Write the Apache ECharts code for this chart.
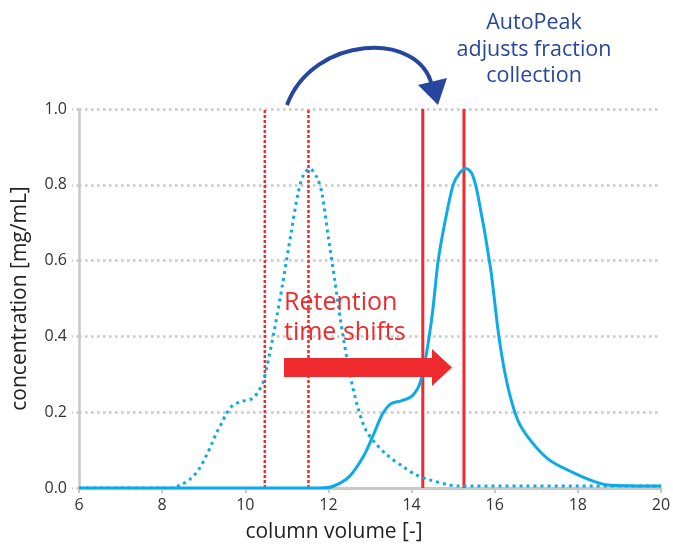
<!DOCTYPE html>
<html>
<head>
<meta charset="utf-8">
<script src="https://cdn.jsdelivr.net/npm/echarts@6/dist/echarts.min.js"></script>
<style>
    html, body { margin: 0; padding: 0; background: #fff; }
    #chart { width: 673px; height: 544px; }
</style>
</head>
<body>
<div id="chart"></div>
<script>
// peak before the shift (dotted) and after the shift (solid)
var beforeX = [6, 8.2, 8.45, 8.7, 8.9, 9.07, 9.2, 9.3, 9.43, 9.55, 9.7, 9.9, 10.15, 10.3, 10.43, 10.52, 10.7, 10.9, 11.1, 11.27, 11.4, 11.55, 11.72, 11.84, 12.0, 12.15, 12.3, 12.5, 12.7, 12.9, 13.1, 13.4, 13.8, 14.1, 14.45, 14.9, 15.1, 20];
var beforeY = [0, 0, 0.008, 0.026, 0.052, 0.087, 0.118, 0.144, 0.171, 0.197, 0.218, 0.228, 0.235, 0.252, 0.28, 0.32, 0.417, 0.54, 0.672, 0.778, 0.826, 0.843, 0.82, 0.78, 0.66, 0.55, 0.435, 0.31, 0.215, 0.153, 0.122, 0.088, 0.056, 0.035, 0.021, 0.008, 0.005, 0.005];

var afterX = [6, 11.8, 12.1, 12.5, 12.85, 13.1, 13.3, 13.5, 13.75, 14.0, 14.2, 14.35, 14.5, 14.64, 14.8, 15.0, 15.15, 15.3, 15.45, 15.6, 15.9, 16.1, 16.3, 16.55, 16.85, 17.3, 17.9, 18.4, 18.8, 20];
var afterY = [0, 0, 0.004, 0.03, 0.085, 0.145, 0.195, 0.222, 0.23, 0.242, 0.276, 0.35, 0.46, 0.6, 0.7, 0.8, 0.83, 0.843, 0.83, 0.77, 0.58, 0.40, 0.275, 0.18, 0.127, 0.075, 0.04, 0.017, 0.007, 0.005];

// fraction cut positions
var oldCuts = [10.47, 11.52];
var newCuts = [14.27, 15.26];

var xMin = 6, xMax = 20, xStep = 2;
var yMin = 0, yMax = 1, yStep = 0.2;

var FONT = '"Open Sans"';
var BLUE = '#0caae6';
var RED = '#ee2a2e';
var NAVY = '#27479e';
var GRAY = '#c8c8c8';

function pairs(xs, ys) {
    var out = [];
    for (var i = 0; i < xs.length; i++) {
        out.push([xs[i], ys[i]]);
    }
    return out;
}

function cutSeries(x, dotted) {
    return {
        type: 'line',
        data: [[x, yMin], [x, yMax]],
        symbol: 'none',
        silent: true,
        z: 3,
        lineStyle: {
            color: RED,
            width: dotted ? 2.5 : 3,
            type: dotted ? [3, 2] : 'solid'
        }
    };
}

var chart = echarts.init(document.getElementById('chart'));

var series = [];
for (var i = 0; i < oldCuts.length; i++) series.push(cutSeries(oldCuts[i], true));
for (var j = 0; j < newCuts.length; j++) series.push(cutSeries(newCuts[j], false));

series.push({
    name: 'before',
    type: 'line',
    data: pairs(beforeX, beforeY),
    smooth: 0.3,
    symbol: 'none',
    z: 4,
    lineStyle: { color: BLUE, width: 3, type: [3, 4] }
});
series.push({
    name: 'after',
    type: 'line',
    data: pairs(afterX, afterY),
    smooth: 0.3,
    symbol: 'none',
    z: 5,
    lineStyle: { color: BLUE, width: 3 }
});

chart.setOption({
    animation: false,
    backgroundColor: '#fff',
    textStyle: { fontFamily: FONT },
    grid: { left: 79, right: 12, top: 109, bottom: 56, containLabel: false, outerBoundsMode: 'none' },
    xAxis: {
        type: 'value',
        min: xMin,
        max: xMax,
        interval: xStep,
        name: 'column volume [-]',
        nameLocation: 'middle',
        nameGap: 34,
        nameTextStyle: { fontSize: 21, color: '#222', fontFamily: FONT, padding: [0, 72, 0, 0] },
        axisLine: { show: true, lineStyle: { color: GRAY, width: 3 } },
        axisTick: { show: true, length: 5, lineStyle: { color: GRAY, width: 2 } },
        axisLabel: { fontSize: 16, color: '#333', margin: 9 },
        splitLine: { show: false }
    },
    yAxis: {
        type: 'value',
        min: yMin,
        max: yMax,
        interval: yStep,
        name: 'concentration [mg/mL]',
        nameLocation: 'middle',
        nameGap: 48,
        nameTextStyle: { fontSize: 21, color: '#222', fontFamily: FONT },
        axisLine: { show: true, lineStyle: { color: GRAY, width: 2.5 } },
        axisTick: { show: true, length: 7, lineStyle: { color: GRAY, width: 2.5, type: [2.5, 3.5] } },
        axisLabel: {
            fontSize: 16, color: '#333', margin: 12,
            formatter: function (v) { return v.toFixed(1); }
        },
        splitLine: { show: true, lineStyle: { color: GRAY, width: 2.5, type: [2.5, 3.5] } }
    },
    graphic: [
        {
            type: 'text',
            x: 284,
            y: 288,
            z: 10,
            style: {
                text: 'Retention\ntime shifts',
                fill: RED,
                font: '25px ' + FONT,
                lineHeight: 30
            }
        },
        {
            type: 'polygon',
            z: 10,
            shape: { points: [[284, 358], [432, 358], [432, 349], [452, 367.5], [432, 386], [432, 377], [284, 377]] },
            style: { fill: RED }
        },
        {
            type: 'bezierCurve',
            z: 10,
            shape: { x1: 287, y1: 105, cpx1: 313, cpy1: 35, cpx2: 420, cpy2: 30, x2: 432, y2: 86 },
            style: { stroke: NAVY, lineWidth: 4, fill: null }
        },
        {
            type: 'polygon',
            z: 10,
            shape: { points: [[418, 85], [447, 78], [438, 105]] },
            style: { fill: NAVY }
        },
        {
            type: 'text',
            x: 534,
            y: 10,
            z: 10,
            style: {
                text: 'AutoPeak\nadjusts fraction\ncollection',
                fill: NAVY,
                font: '21.5px ' + FONT,
                lineHeight: 26.5,
                textAlign: 'center'
            }
        }
    ],
    series: series
});
</script>
</body>
</html>
